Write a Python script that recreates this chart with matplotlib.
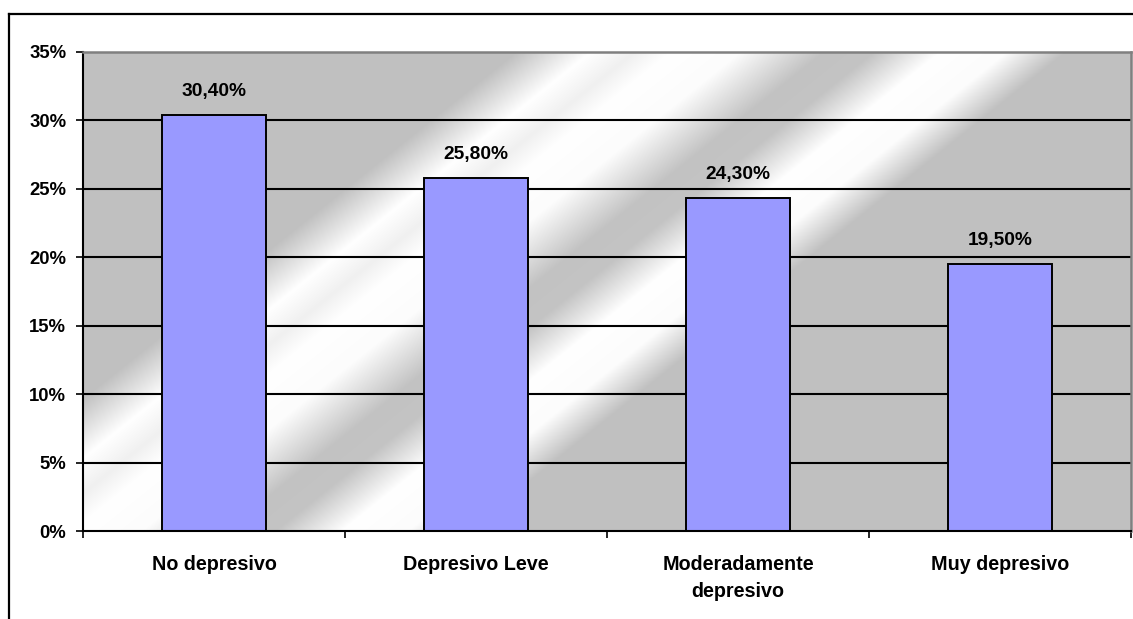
import numpy as np
import matplotlib
matplotlib.use("Agg")
import matplotlib.pyplot as plt
from matplotlib.lines import Line2D
from matplotlib.ticker import FixedLocator, FuncFormatter

plt.rcParams['font.family'] = ['Liberation Sans', 'DejaVu Sans']

# Data
categories = ["No depresivo", "Depresivo Leve", "Moderadamente\ndepresivo", "Muy depresivo"]
values = [30.4, 25.8, 24.3, 19.5]          # percent
y_ticks = [0, 5, 10, 15, 20, 25, 30, 35]

W, H, DPI = 1133, 619, 100
fig = plt.figure(figsize=(W / DPI, H / DPI), dpi=DPI)
fig.patch.set_facecolor("white")

# plot area in pixels: x 83..1131, y 52..531 (from top)
px0, px1, py0, py1 = 83, 1131, 52, 531
ax = fig.add_axes([px0 / W, 1 - py1 / H, (px1 - px0) / W, (py1 - py0) / H])
ax.set_facecolor("none")

# chrome-like diagonal gradient behind the plot
xs = np.arange(px0, px1) + 0.5
ys = np.arange(py0, py1) + 0.5
X, Y = np.meshgrid(xs, ys)
S = 0.8 * X + Y
stops_s = [0, 465, 525, 560, 590, 645, 712, 752, 805, 858, 905, 3000]
stops_v = [192, 192, 255, 240, 255, 252, 194, 196, 255, 252, 192, 192]
G = np.interp(S, stops_s, stops_v) / 255.0
img = np.dstack([G, G, G])
ax.imshow(img, extent=(0, 1, 0, 1), transform=ax.transAxes, aspect="auto",
          origin="upper", zorder=0, interpolation="bilinear")

x = np.arange(len(categories))
ax.set_xlim(-0.5, len(categories) - 0.5)
ax.set_ylim(0, 35)

# gridlines
for t in y_ticks[1:-1]:
    ax.axhline(t, color="black", lw=1.5, zorder=1)

bars = ax.bar(x, values, width=0.4, color="#9999FF", edgecolor="black",
              linewidth=1.4, zorder=2)

for xi, v in zip(x, values):
    ax.annotate(f"{v:.2f}".replace(".", ",") + "%", (xi, v),
                xytext=(0, 11), textcoords="offset points",
                ha="center", va="bottom", fontsize=13.8, fontweight="bold",
                zorder=3)

# spines
ax.spines["left"].set_color("black")
ax.spines["left"].set_linewidth(1.5)
ax.spines["bottom"].set_color("black")
ax.spines["bottom"].set_linewidth(1.5)
ax.spines["top"].set_color("#808080")
ax.spines["top"].set_linewidth(1.8)
ax.spines["right"].set_color("#808080")
ax.spines["right"].set_linewidth(1.8)
for sp in ax.spines.values():
    sp.set_zorder(4)

# y axis
ax.yaxis.set_major_locator(FixedLocator(y_ticks))
ax.yaxis.set_major_formatter(FuncFormatter(lambda v, p: f"{int(round(v))}%"))
ax.tick_params(axis="y", direction="out", length=5, width=1.2, pad=7,
               labelsize=13.3, color="black")
for lab in ax.get_yticklabels():
    lab.set_fontweight("bold")

# x axis: labels at centers, tick marks at category boundaries
ax.set_xticks(x)
ax.set_xticklabels(categories, fontsize=14.2, fontweight="bold", linespacing=1.5)
ax.tick_params(axis="x", which="major", length=0, pad=17.5)
ax.set_xticks(np.arange(-0.5, len(categories)), minor=True)
ax.tick_params(axis="x", which="minor", direction="out", length=5, width=1.2,
               color="black")

# outer chart frame (top and left edges)
fig.add_artist(Line2D([9 / W, 1.0], [1 - 14 / H, 1 - 14 / H],
                      transform=fig.transFigure, color="black", lw=1.6))
fig.add_artist(Line2D([9 / W, 9 / W], [0.0, 1 - 14 / H],
                      transform=fig.transFigure, color="black", lw=1.6))

fig.savefig("out.png", dpi=DPI, facecolor="white")
